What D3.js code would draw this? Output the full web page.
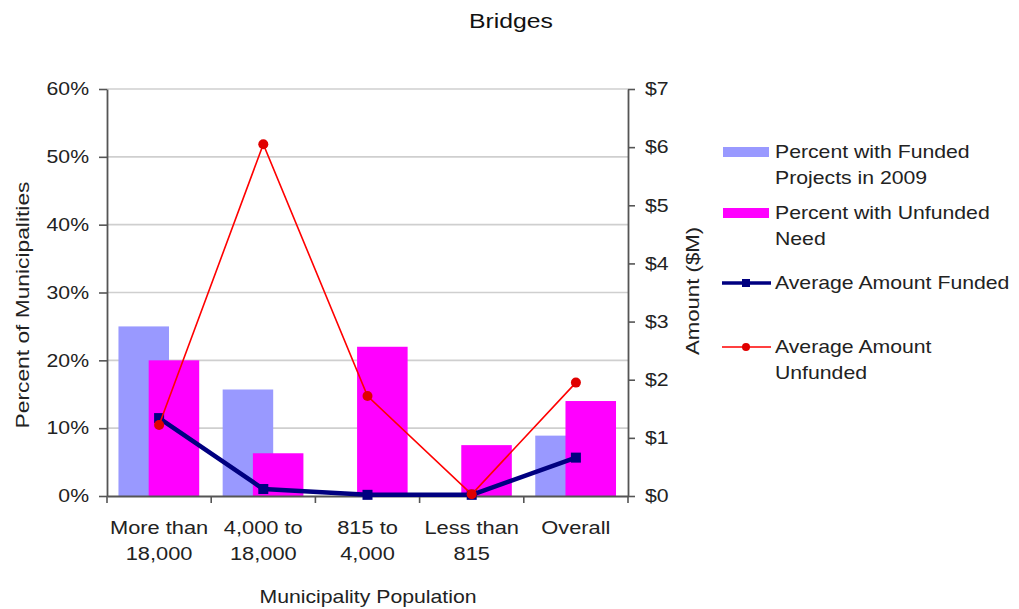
<!DOCTYPE html>
<html>
<head>
<meta charset="utf-8">
<script src="https://cdn.jsdelivr.net/npm/d3@7"></script>
<style>
  html, body { margin: 0; padding: 0; background: #fff; }
  svg { display: block; font-family: "Liberation Sans", Arial, sans-serif; }
</style>
</head>
<body>
<svg id="chart" width="1019" height="609"></svg>
<script>
// ---- data ----
const categories = ["More than\n18,000", "4,000 to\n18,000", "815 to\n4,000", "Less than\n815", "Overall"];
const pctFunded   = [25, 15.7, 0, 0, 8.9];       // Percent with Funded Projects in 2009
const pctUnfunded = [20, 6.3, 22, 7.5, 14];      // Percent with Unfunded Need
const amtFunded   = [1.34, 0.12, 0.02, 0.02, 0.66]; // Average Amount Funded ($M)
const amtUnfunded = [1.22, 6.05, 1.72, 0.03, 1.95]; // Average Amount Unfunded ($M)
const leftTicks  = [0, 10, 20, 30, 40, 50, 60];
const rightTicks = [0, 1, 2, 3, 4, 5, 6, 7];
const seriesNames = ["Percent with Funded\nProjects in 2009", "Percent with Unfunded\nNeed", "Average Amount Funded", "Average Amount\nUnfunded"];
const colors = { funded: "#9999ff", unfunded: "#ff00ff", lineFunded: "#000080", lineUnfunded: "#ff0000" };

// ---- layout ----
const L = 107, R = 628, T = 89, B = 496;
const svg = d3.select("#chart");
const SX = 1.18;

function stretch(sel, s) {
  sel.each(function () {
    const t = d3.select(this);
    const x = +t.attr("x") || 0, y = +t.attr("y") || 0;
    t.attr("transform", `translate(${x},${y}) scale(${s},1) translate(${-x},${-y})`);
  });
}

const x = d3.scaleBand().domain(categories).range([L, R]).padding(0);
const yL = d3.scaleLinear().domain([0, 60]).range([B, T]);
const yR = d3.scaleLinear().domain([0, 7]).range([B, T]);
const bw = x.bandwidth();

// gridlines
svg.append("g").selectAll("line").data(leftTicks.filter(d => d > 0)).join("line")
  .attr("x1", L).attr("x2", R).attr("y1", d => yL(d)).attr("y2", d => yL(d))
  .attr("stroke", "#cfcfcf").attr("stroke-width", 1.6);

// bars
const barW = bw * 0.485;
svg.append("g").selectAll("rect").data(pctFunded).join("rect")
  .attr("x", (d, i) => x(categories[i]) + bw * 0.11)
  .attr("width", barW)
  .attr("y", d => yL(d)).attr("height", d => B - yL(d))
  .attr("fill", colors.funded);
svg.append("g").selectAll("rect").data(pctUnfunded).join("rect")
  .attr("x", (d, i) => x(categories[i]) + bw * 0.40)
  .attr("width", barW)
  .attr("y", d => yL(d)).attr("height", d => B - yL(d))
  .attr("fill", colors.unfunded);

// axes
const axL = d3.axisLeft(yL).tickValues(leftTicks).tickFormat(d => d + "%").tickSize(8).tickPadding(10).tickSizeOuter(0);
const gL = svg.append("g").attr("transform", `translate(${L},0)`).call(axL);
const axR = d3.axisRight(yR).tickValues(rightTicks).tickFormat(d => "$" + d).tickSize(7).tickPadding(10).tickSizeOuter(0);
const gR = svg.append("g").attr("transform", `translate(${R},0)`).call(axR);
const axB = d3.axisBottom(x).tickValues([]).tickSizeOuter(0);
const gB = svg.append("g").attr("transform", `translate(0,${B})`).call(axB);
gB.selectAll(".bt").data(d3.range(categories.length + 1)).join("line")
  .attr("x1", i => L + i * bw).attr("x2", i => L + i * bw).attr("y1", 0).attr("y2", 7)
  .attr("stroke", "#555").attr("stroke-width", 1.6);
[gL, gR, gB].forEach(g => {
  g.selectAll("path.domain").attr("stroke", "#555").attr("stroke-width", 1.8);
  g.selectAll(".tick line").attr("stroke", "#555").attr("stroke-width", 1.6);
  g.selectAll(".tick text").attr("font-size", 18).attr("fill", "#222")
    .attr("font-family", "'Liberation Sans', Arial, sans-serif");
});
stretch(gL.selectAll(".tick text"), SX);
stretch(gR.selectAll(".tick text"), SX);

// category labels
const catText = svg.append("g").selectAll("text").data(categories).join("text")
  .attr("text-anchor", "middle").attr("font-size", 18.5).attr("fill", "#222")
  .attr("x", d => x(d) + bw / 2).attr("y", 534);
catText.each(function (d) {
  const t = d3.select(this);
  const cx = x(d) + bw / 2;
  d.split("\n").forEach((ln, k) => t.append("tspan").attr("x", cx).attr("y", 534 + k * 26).text(ln));
});
stretch(catText, SX);

// lines
const cx = (i) => x(categories[i]) + bw / 2;
const lineF = d3.line().x((d, i) => cx(i)).y(d => yR(d));
svg.append("path").datum(amtFunded).attr("d", lineF).attr("fill", "none")
  .attr("stroke", colors.lineFunded).attr("stroke-width", 4.5).attr("stroke-linejoin", "round");
svg.append("g").selectAll("rect").data(amtFunded).join("rect")
  .attr("x", (d, i) => cx(i) - 5).attr("y", d => yR(d) - 5).attr("width", 10).attr("height", 10)
  .attr("fill", colors.lineFunded);
svg.append("path").datum(amtUnfunded).attr("d", lineF).attr("fill", "none")
  .attr("stroke", colors.lineUnfunded).attr("stroke-width", 1.6);
svg.append("g").selectAll("circle").data(amtUnfunded).join("circle")
  .attr("cx", (d, i) => cx(i)).attr("cy", d => yR(d)).attr("r", 5)
  .attr("fill", "#e00000");

// title
const title = svg.append("text").attr("x", 511).attr("y", 28).attr("text-anchor", "middle")
  .attr("font-size", 21).attr("fill", "#111").text("Bridges");
stretch(title, SX);

// axis titles
const xt = svg.append("text").attr("x", 368).attr("y", 603).attr("text-anchor", "middle")
  .attr("font-size", 18).attr("fill", "#222").text("Municipality Population");
stretch(xt, SX);
svg.append("text").attr("transform", `translate(29,305) rotate(-90) scale(1.2,1)`)
  .attr("text-anchor", "middle").attr("font-size", 19).attr("fill", "#222").text("Percent of Municipalities");
svg.append("text").attr("transform", `translate(699,291) rotate(-90) scale(1.2,1)`)
  .attr("text-anchor", "middle").attr("font-size", 18.5).attr("fill", "#222").text("Amount ($M)");

// legend
const legY = [152, 213, 283, 347];
const lg = svg.append("g");
seriesNames.forEach((name, i) => {
  const y0 = legY[i];
  if (i < 2) {
    lg.append("rect").attr("x", 723).attr("y", y0 - 5).attr("width", 46).attr("height", 10)
      .attr("fill", i === 0 ? colors.funded : colors.unfunded);
  } else if (i === 2) {
    lg.append("line").attr("x1", 722).attr("x2", 771).attr("y1", y0).attr("y2", y0)
      .attr("stroke", colors.lineFunded).attr("stroke-width", 3.5);
    lg.append("rect").attr("x", 742).attr("y", y0 - 4).attr("width", 8).attr("height", 8).attr("fill", colors.lineFunded);
  } else {
    lg.append("line").attr("x1", 722).attr("x2", 771).attr("y1", y0).attr("y2", y0)
      .attr("stroke", colors.lineUnfunded).attr("stroke-width", 1.4);
    lg.append("circle").attr("cx", 746).attr("cy", y0).attr("r", 4).attr("fill", "#e00000");
  }
  const t = lg.append("text").attr("x", 775).attr("y", y0 + 6.5).attr("font-size", 18).attr("fill", "#222");
  name.split("\n").forEach((ln, k) => t.append("tspan").attr("x", 775).attr("y", y0 + 6.5 + k * 26).text(ln));
  stretch(t, SX);
});
</script>
</body>
</html>
